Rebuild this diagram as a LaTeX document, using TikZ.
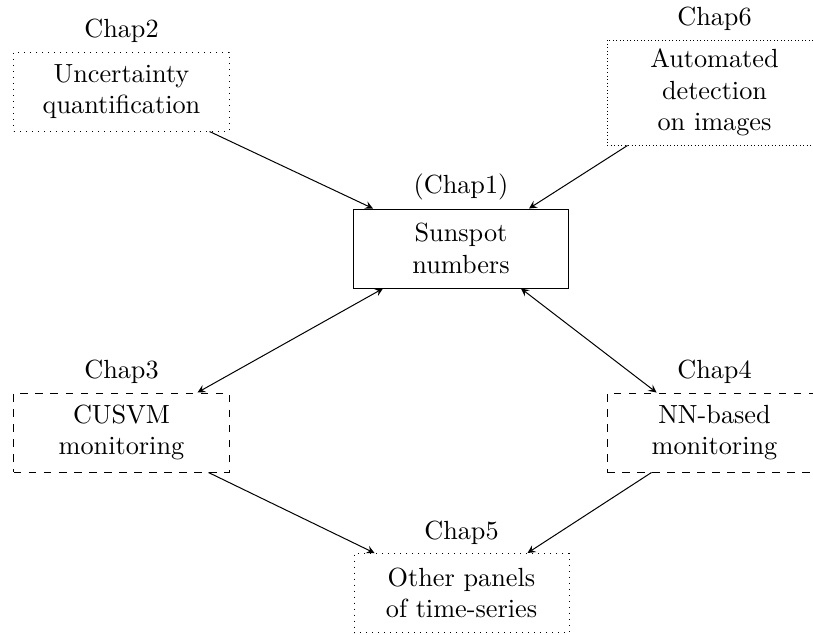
\documentclass[tikz,border=0pt]{standalone}
\usetikzlibrary{calc}
\begin{document}
\begin{tikzpicture}[x=0.4pt,y=-0.4pt,
  font=\fontsize{10.5}{12.6}\selectfont,
  box/.style={draw,align=center,minimum width=86pt,minimum height=31.6pt,inner sep=0pt},
  tallbox/.style={box,minimum height=42pt},
  conn/.style={-stealth},
  bconn/.style={stealth-stealth}]
\useasboundingbox (0,0) rectangle (813,634);
\node[box,dotted,label={above:Chap2}] (c2) at (121.5,91.5) {Uncertainty\\quantification};
\node[tallbox,densely dotted,label={above:Chap6}] (c6) at (714.5,92.5) {Automated\\detection\\on images};
\node[box,label={above:(Chap1)}] (c1) at (461,248.5) {Sunspot\\numbers};
\node[box,dashed,label={above:Chap3}] (c3) at (121.5,432.5) {CUSVM\\monitoring};
\node[box,dashed,label={above:Chap4}] (c4) at (714.5,432.5) {NN-based\\monitoring};
\node[box,dotted,label={above:Chap5}] (c5) at (461.5,593) {Other panels\\of time-series};
\draw[conn] ($(c2.south east)+(-20,0)$) -- ($(c1.north west)+(20,0)$);
\draw[conn] ($(c6.south west)+(21,0)$) -- ($(c1.north east)+(-40,0)$);
\draw[bconn] ($(c1.south west)+(30,0)$) -- ($(c3.north east)+(-32,0)$);
\draw[bconn] ($(c1.south east)+(-48,0)$) -- ($(c4.north west)+(50,0)$);
\draw[conn] ($(c3.south east)+(-21,0)$) -- ($(c5.north west)+(21,0)$);
\draw[conn] ($(c4.south west)+(45,0)$) -- ($(c5.north east)+(-42,0)$);
\end{tikzpicture}
\end{document}
